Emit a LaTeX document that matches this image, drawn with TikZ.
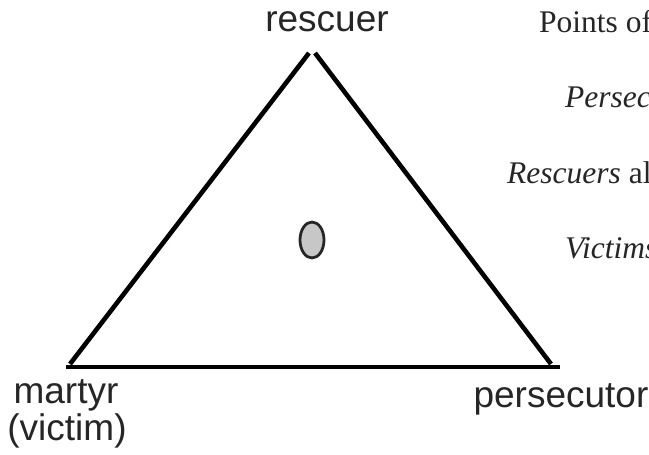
\documentclass[tikz,border=0pt]{standalone}
\usepackage{fontspec}
\usetikzlibrary{shapes.geometric}
\setmainfont{Liberation Serif}
\setsansfont{Liberation Sans}
\tikzset{
  edge/.style={line width=4.6pt, draw=black},
  vlabel/.style={font=\sffamily\fontsize{37}{39}\selectfont, inner sep=0pt, text=black!85},
  note/.style={font=\rmfamily\fontsize{31.5}{34}\selectfont, inner sep=0pt, anchor=base west, text=black!85},
}
\begin{document}
\begin{tikzpicture}[x=1pt,y=-1pt]
\useasboundingbox (0,0) rectangle (649,455);
\clip (0,0) rectangle (649,455);
\fill[white] (0,0) rectangle (649,455);
% triangle corners
\coordinate (topL) at (309,53);
\coordinate (topR) at (315,53);
\coordinate (botL) at (70,364);
\coordinate (botR) at (551,364);
\coordinate (baseL) at (66,367);
\coordinate (baseR) at (560,367);
\draw[edge] (botL) -- (topL);
\draw[edge] (topR) -- (botR);
\draw[edge] (baseL) -- (baseR);
% centre marker
\node[ellipse, draw=black!85, line width=2.8pt, fill=black!22, minimum width=24pt, minimum height=36pt, inner sep=0pt] (dot) at (312,240) {};
% vertex labels
\node[vlabel, anchor=base] (rescuer) at (327,31) {rescuer};
\node[vlabel, anchor=base] (martyr) at (66,403) {martyr};
\node[vlabel, anchor=base] (victim) at (67,440) {(victim)};
\node[vlabel, anchor=base] (persecutor) at (561,407) {persecutor};
% notes (cut off at the right edge)
\node[note] (n1) at (539,32) {Points of};
\node[note] (n2) at (565,107) {\textit{Persec}};
\node[note] (n3) at (507,183) {\textit{Rescuers} al};
\node[note] (n4) at (565,258) {\textit{Victims}};
\end{tikzpicture}
\end{document}
